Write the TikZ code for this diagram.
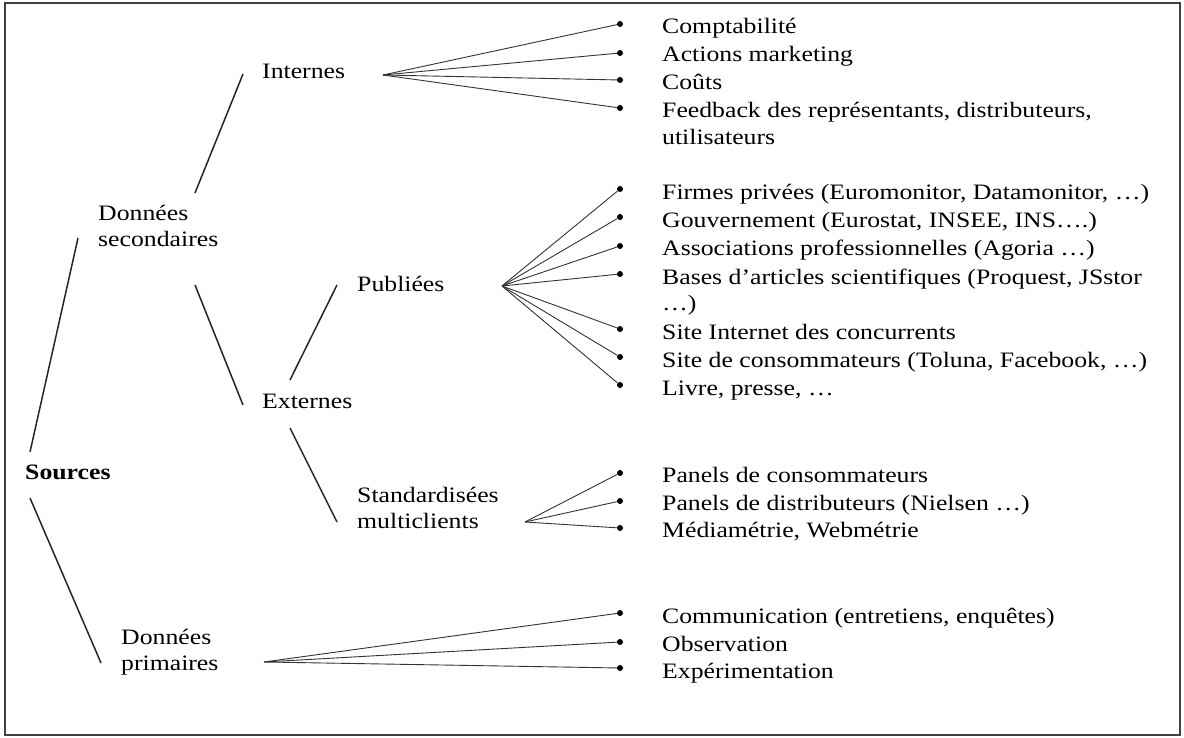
\documentclass[tikz,border=0pt]{standalone}
\usepackage{fontspec}
\setmainfont{Liberation Serif}[FakeStretch=1.17]
\begin{document}
\begin{tikzpicture}[x=1pt,y=-1pt,
  lbl/.style={anchor=base west,inner sep=0pt,font=\fontsize{22}{26}\selectfont,align=left},
  dot/.style={circle,fill=black,inner sep=0pt,minimum size=6pt},
  link/.style={line width=1.5pt,black!85},
  fan/.style={line width=0.9pt,black!80}]
\useasboundingbox (0,0) rectangle (1184,738);
\draw[line width=1.5pt,black!75] (5,3) rectangle (1180,735);

% tree labels (multi-line labels are placed by the baseline of their last line)
\node[lbl,font=\fontsize{22}{26}\selectfont\bfseries] (src) at (25,479) {Sources};
\node[lbl] (sec) at (98,247) {Données\\secondaires};
\node[lbl] (prim) at (121,670) {Données\\primaires};
\node[lbl] (int) at (262,79) {Internes};
\node[lbl] (ext) at (262,408) {Externes};
\node[lbl] (pub) at (357,291) {Publiées};
\node[lbl] (std) at (357,528) {Standardisées\\multiclients};

% branch end points
\coordinate (srcU) at (30,452);   \coordinate (secD) at (78,238);
\coordinate (srcB) at (30,498);   \coordinate (primU) at (101,663);
\coordinate (secU) at (195,193);  \coordinate (intD) at (243,74);
\coordinate (secB) at (195,285);  \coordinate (extU) at (243,405);
\coordinate (extU2) at (290,380); \coordinate (pubD) at (337,285);
\coordinate (extB) at (290,428);  \coordinate (stdU) at (337,522);

\draw[link] (srcU) -- (secD);
\draw[link] (srcB) -- (primU);
\draw[link] (secU) -- (intD);
\draw[link] (secB) -- (extU);
\draw[link] (extU2) -- (pubD);
\draw[link] (extB) -- (stdU);

% fan origins
\coordinate (fi) at (383,75);
\coordinate (fp) at (502,286);
\coordinate (fs) at (525,522);
\coordinate (fd) at (264,662);

% bullets
\foreach \n/\y in {i1/24,i2/53,i3/80,i4/108,
                   p1/189,p2/217,p3/246,p4/274,p5/329,p6/357,p7/385,
                   s1/473,s2/501,s3/528,
                   d1/613,d2/642,d3/668}
  \node[dot] (\n) at (620,\y) {};

\foreach \n in {i1,i2,i3,i4} \draw[fan] (fi) -- (\n);
\foreach \n in {p1,p2,p3,p4,p5,p6,p7} \draw[fan] (fp) -- (\n);
\foreach \n in {s1,s2,s3} \draw[fan] (fs) -- (\n);
\foreach \n in {d1,d2,d3} \draw[fan] (fd) -- (\n);

% item texts
\node[lbl] (ti1) at (662,34) {Comptabilité};
\node[lbl] (ti2) at (662,62) {Actions marketing};
\node[lbl] (ti3) at (662,90) {Coûts};
\node[lbl] (ti4) at (662,145) {Feedback des représentants, distributeurs,\\[1pt]utilisateurs};

\node[lbl] (tp1) at (662,200) {Firmes privées (Euromonitor, Datamonitor, …)};
\node[lbl] (tp2) at (662,228) {Gouvernement (Eurostat, INSEE, INS….)};
\node[lbl] (tp3) at (662,256) {Associations professionnelles (Agoria …)};
\node[lbl] (tp4) at (662,311) {Bases d’articles scientifiques (Proquest, JSstor\\[1pt]…)};
\node[lbl] (tp5) at (662,339) {Site Internet des concurrents};
\node[lbl] (tp6) at (662,367) {Site de consommateurs (Toluna, Facebook, …)};
\node[lbl] (tp7) at (662,395) {Livre, presse, …};

\node[lbl] (ts1) at (662,482) {Panels de consommateurs};
\node[lbl] (ts2) at (662,510) {Panels de distributeurs (Nielsen …)};
\node[lbl] (ts3) at (662,537) {Médiamétrie, Webmétrie};

\node[lbl] (td1) at (662,623) {Communication (entretiens, enquêtes)};
\node[lbl] (td2) at (662,651) {Observation};
\node[lbl] (td3) at (662,678) {Expérimentation};
\end{tikzpicture}
\end{document}
